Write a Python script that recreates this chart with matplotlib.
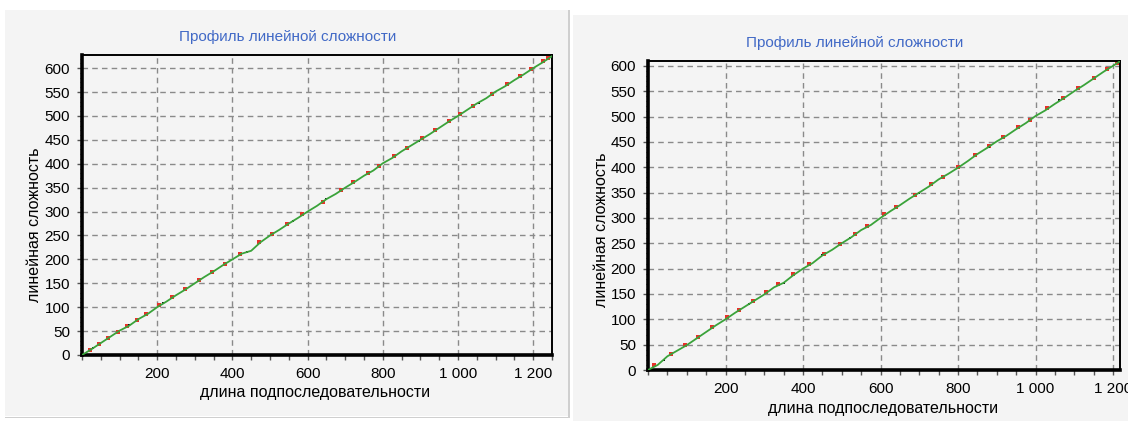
import matplotlib

matplotlib.use("Agg")
import matplotlib.pyplot as plt
from matplotlib.patches import Rectangle
from matplotlib.ticker import MultipleLocator, FixedLocator

# --- data ---
left_x = [0, 25, 50, 75, 100, 125, 150, 175, 200, 225, 250, 275, 300, 325, 350, 375,
          400, 425, 450, 475, 500, 525, 550, 575, 600, 625, 650, 675, 700, 725, 750,
          775, 800, 825, 850, 875, 900, 925, 950, 975, 1000, 1025, 1050, 1075, 1100,
          1125, 1150, 1175, 1200, 1225, 1250]
left_y = [0, 12, 25, 38, 51, 61, 75, 86, 100, 112, 125, 137, 150, 163, 175, 188,
          200, 212, 218, 236, 250, 262, 275, 287, 300, 312, 326, 337, 350, 362, 375,
          386, 401, 412, 426, 438, 450, 462, 475, 488, 500, 513, 526, 537, 551, 562,
          575, 587, 600, 612, 625]
left_red_x = [20, 45, 70, 95, 120, 145, 170, 205, 240, 275, 310, 345, 380, 420, 470,
              505, 545, 585, 640, 690, 720, 760, 790, 830, 865, 905, 940, 975, 1005,
              1040, 1090, 1130, 1165, 1195, 1225, 1240]
left_red_y = [11, 24, 36, 49, 61, 74, 86, 104, 121, 139, 156, 174, 191, 211, 236,
              254, 274, 294, 321, 346, 361, 381, 396, 416, 434, 454, 471, 489, 504,
              521, 546, 566, 584, 599, 614, 621]
left_blk_x = [30, 125, 215, 440, 560, 650, 895, 1055]
left_blk_y = [15, 62, 108, 216, 280, 326, 448, 528]

right_x = [0, 25, 50, 75, 100, 125, 150, 175, 200, 225, 250, 275, 300, 325, 350, 375,
           400, 425, 450, 475, 500, 525, 550, 575, 600, 625, 650, 675, 700, 725, 750,
           775, 800, 825, 850, 875, 900, 925, 950, 975, 1000, 1025, 1050, 1075, 1100,
           1125, 1150, 1175, 1200, 1218]
right_y = [0, 10, 27, 38, 49, 62, 75, 88, 100, 113, 125, 137, 149, 163, 172, 187,
           200, 211, 226, 237, 250, 262, 276, 286, 300, 313, 325, 338, 350, 362, 376,
           387, 399, 412, 426, 438, 451, 462, 475, 487, 501, 512, 525, 537, 550, 562,
           575, 588, 600, 609]
right_red_x = [15, 60, 95, 130, 165, 205, 235, 270, 305, 335, 375, 415, 455, 495,
               535, 565, 610, 640, 690, 730, 760, 800, 845, 880, 915, 955, 985, 1030,
               1070, 1110, 1150, 1185, 1210]
right_red_y = [9, 31, 49, 66, 84, 104, 119, 136, 154, 169, 189, 209, 229, 249, 269,
               284, 307, 321, 346, 366, 381, 401, 424, 441, 459, 479, 494, 516, 536,
               556, 576, 594, 606]
right_blk_x = [40, 260, 350, 450, 520, 700, 880, 1060, 1220]
right_blk_y = [20, 130, 172, 226, 260, 350, 440, 532, 608]

yticks = [0, 50, 100, 150, 200, 250, 300, 350, 400, 450, 500, 550, 600]
xticks = [200, 400, 600, 800, 1000, 1200]
xtick_labels = ["200", "400", "600", "800", "1 000", "1 200"]

title = "Профиль линейной сложности"
xlabel = "длина подпоследовательности"
ylabel = "линейная сложность"

BG = "#f4f4f4"
W, H = 1128, 421
FONT = "Liberation Sans"

fig = plt.figure(figsize=(W / 100, H / 100), dpi=100, facecolor="white")


def fx(px):
    return px / W


def fy(py):
    return (H - py) / H


def panel_rect(x0, y0, x1, y1, color):
    # rectangle in pixel coords (top-left origin), drawn behind the axes
    fig.patches.append(Rectangle((fx(x0), fy(y1)), fx(x1 - x0), (y1 - y0) / H,
                                 transform=fig.transFigure, facecolor=color,
                                 edgecolor="none", zorder=-5))


# two chart controls side by side
panel_rect(5, 10, 568, 416, BG)
panel_rect(568, 10, 569.5, 417, "#cfcfcf")
panel_rect(5, 416.5, 569.5, 418, "#cfcfcf")
panel_rect(573, 15, W, H, BG)


def draw_panel(box, xs, ys, rx, ry, bx, by, xmax, ymax, title_pos, xlabel_pos, ylabel_pos):
    ax = fig.add_axes(box)
    ax.set_facecolor(BG)
    # red / black points sit under the green profile line and peek out of it
    ax.plot(rx, ry, ls="none", marker="s", ms=2.4, mew=0, color="#e8302a", zorder=2)
    ax.plot(bx, by, ls="none", marker="s", ms=2.0, mew=0, color="#111111", zorder=2)
    ax.plot(xs, ys, color="#3aa33a", lw=1.3, zorder=3)
    ax.set_xlim(0, xmax)
    ax.set_ylim(0, ymax)

    ax.xaxis.set_major_locator(FixedLocator(xticks))
    ax.set_xticklabels(xtick_labels)
    ax.xaxis.set_minor_locator(MultipleLocator(50))
    ax.set_yticks(yticks)
    ax.yaxis.set_minor_locator(MultipleLocator(10))
    ax.tick_params(axis="both", which="major", direction="out", length=3.5, width=1,
                   color="#555555", labelsize=11, pad=5)
    ax.tick_params(axis="x", which="minor", direction="out", length=3.5, width=1, color="#555555")
    ax.tick_params(axis="y", which="minor", direction="out", length=1.5, width=0.8, color="#555555")
    for lab in ax.get_xticklabels() + ax.get_yticklabels():
        lab.set_fontfamily(FONT)

    ax.grid(True, which="major", color="#8a8a8a", lw=1, ls=(0, (4, 3)))
    ax.set_axisbelow(True)
    for side in ("left", "bottom"):
        ax.spines[side].set_linewidth(2.6)
    for side in ("top", "right"):
        ax.spines[side].set_linewidth(1.4)

    fig.text(title_pos[0], title_pos[1], title, color="#4169c6", fontsize=11,
             family=FONT, ha="center", va="center")
    fig.text(xlabel_pos[0], xlabel_pos[1], xlabel, fontsize=11.5,
             family=FONT, ha="center", va="center")
    fig.text(ylabel_pos[0], ylabel_pos[1], ylabel, fontsize=11.5, rotation=90,
             family=FONT, ha="center", va="center")
    return ax


draw_panel([fx(82), fy(355), fx(552 - 82), (355 - 55) / H],
           left_x, left_y, left_red_x, left_red_y, left_blk_x, left_blk_y, 1250, 627.5,
           (fx(288), fy(37)), (fx(315), fy(393)), (fx(35), fy(225)))
draw_panel([fx(648), fy(370), fx(1120 - 648), (370 - 61) / H],
           right_x, right_y, right_red_x, right_red_y, right_blk_x, right_blk_y, 1218, 609.5,
           (fx(855), fy(43)), (fx(883), fy(409)), (fx(602), fy(230)))

fig.savefig("out.png", dpi=100, facecolor="white")
